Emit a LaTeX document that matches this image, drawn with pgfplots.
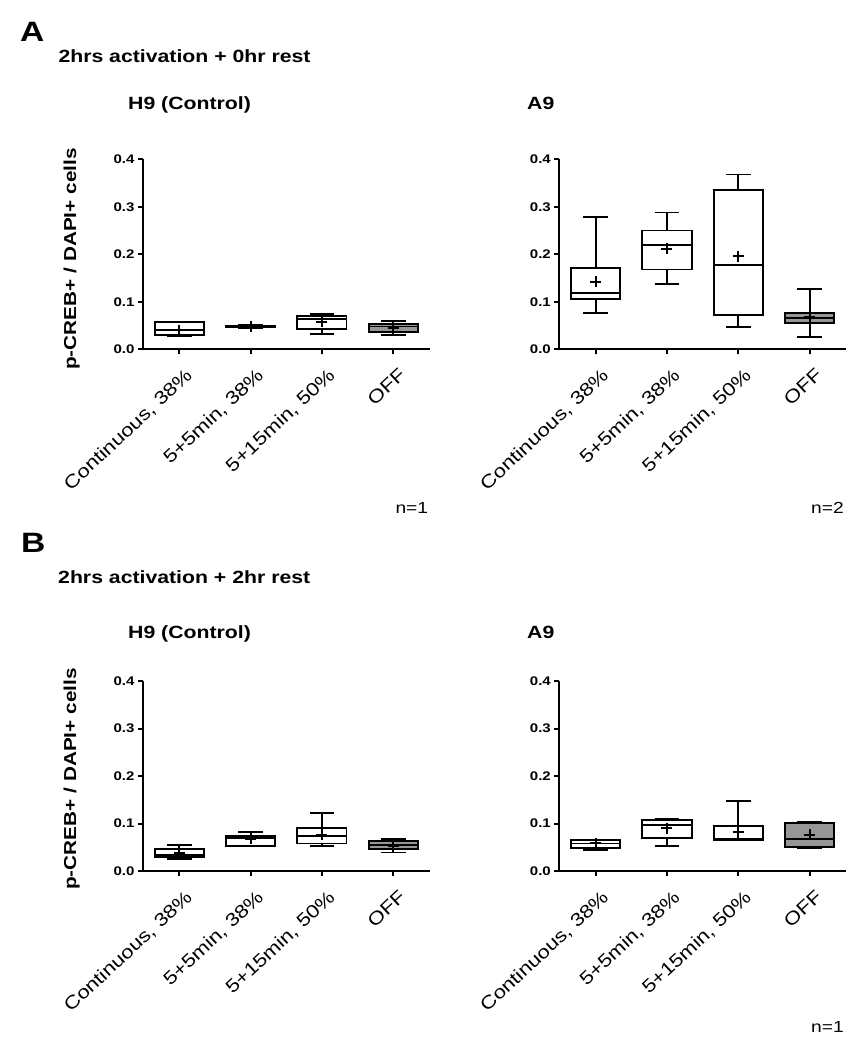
\documentclass[border=0pt]{standalone}
\usepackage{pgfplots}
\pgfplotsset{compat=1.18}
\usepgfplotslibrary{statistics}
\usepackage{fontspec}
\setmainfont{Liberation Sans}[FakeStretch=1.2]
\definecolor{offgray}{RGB}{150,150,150}
\pgfplotsset{
  myax/.style={
    scale only axis, width=286.6pt, height=190pt,
    xmin=-0.51, xmax=3.51, ymin=0, ymax=0.4,
    axis x line*=bottom, axis y line*=left,
    axis line style={line width=2pt},
    every tick/.style={black, line width=2pt},
    major tick length=5pt, tick align=outside,
    xtick={0,1,2,3},
    xticklabels={{Continuous, 38\%},{5+5min, 38\%},{5+15min, 50\%},{OFF}},
    ytick={0,0.1,0.2,0.3,0.4},
    yticklabel style={font=\bfseries\fontsize{12.5}{13}\selectfont,
      /pgf/number format/fixed, /pgf/number format/fixed zerofill,
      /pgf/number format/precision=1, /pgf/number format/assume math mode=true},
    xticklabel style={font=\fontsize{18.3}{19}\selectfont, xshift=5pt, yshift=-8pt, rotate=43, anchor=north east},
    clip=false,
    boxplot/draw direction=y,
  },
  bx/.style={draw=black, line width=1.9pt, fill=white, solid,
    boxplot/draw direction=y,
    boxplot/box extend=0.69, boxplot/whisker extend=0.345},
  mn/.style={only marks, mark=+, mark size=5.5pt, black, mark options={solid, line width=2pt}},
}
\newcommand{\bx}[7]{\addplot[bx, fill=#7, boxplot prepared={draw position=#1,
  lower whisker=#2, lower quartile=#3, median=#4, upper quartile=#5, upper whisker=#6}]
  coordinates {};}
\begin{document}
\begin{tikzpicture}
\useasboundingbox (0,0) rectangle (857pt,1051pt);
% ---------- Panel A, H9
\begin{axis}[myax, at={(143pt,701.7pt)}, anchor=south west]
\bx{0}{0.027}{0.030}{0.040}{0.057}{0.057}{white}
\bx{1}{0.045}{0.047}{0.048}{0.050}{0.052}{white}
\bx{2}{0.033}{0.042}{0.063}{0.071}{0.074}{white}
\bx{3}{0.031}{0.036}{0.048}{0.054}{0.060}{offgray}
\addplot[mn] coordinates {(0,0.040) (1,0.048) (2,0.058) (3,0.045)};
\end{axis}
% ---------- Panel A, A9
\begin{axis}[myax, at={(559.3pt,701.7pt)}, anchor=south west]
\bx{0}{0.077}{0.106}{0.119}{0.171}{0.2785}{white}
\bx{1}{0.1375}{0.168}{0.2196}{0.250}{0.288}{white}
\bx{2}{0.046}{0.072}{0.177}{0.335}{0.368}{white}
\bx{3}{0.026}{0.055}{0.065}{0.076}{0.127}{offgray}
\addplot[mn] coordinates {(0,0.142) (1,0.212) (2,0.196) (3,0.068)};
\end{axis}
% ---------- Panel B, H9
\begin{axis}[myax, at={(143pt,180pt)}, anchor=south west]
\bx{0}{0.026}{0.029}{0.033}{0.047}{0.0555}{white}
\bx{1}{0.053}{0.0535}{0.070}{0.0744}{0.083}{white}
\bx{2}{0.053}{0.058}{0.073}{0.091}{0.123}{white}
\bx{3}{0.039}{0.0457}{0.055}{0.063}{0.067}{offgray}
\addplot[mn] coordinates {(0,0.038) (1,0.068) (2,0.0765) (3,0.052)};
\end{axis}
% ---------- Panel B, A9
\begin{axis}[myax, at={(559.3pt,180pt)}, anchor=south west]
\bx{0}{0.044}{0.048}{0.058}{0.0646}{0.065}{white}
\bx{1}{0.0526}{0.070}{0.097}{0.107}{0.1095}{white}
\bx{2}{0.0646}{0.0647}{0.0667}{0.0947}{0.147}{white}
\bx{3}{0.048}{0.0505}{0.0667}{0.101}{0.104}{offgray}
\addplot[mn] coordinates {(0,0.058) (1,0.090) (2,0.082) (3,0.076)};
\end{axis}
% ---------- texts
\node[anchor=base west, inner sep=0pt, font=\bfseries\fontsize{28}{30}\selectfont] at (20pt,1009pt) {A};
\node[anchor=base west, inner sep=0pt, font=\bfseries\fontsize{17.7}{19}\selectfont] at (58.3pt,988.7pt) {2hrs activation + 0hr rest};
\node[anchor=base west, inner sep=0pt, font=\bfseries\fontsize{17.7}{19}\selectfont] at (128pt,941pt) {H9 (Control)};
\node[anchor=base west, inner sep=0pt, font=\bfseries\fontsize{17.7}{19}\selectfont] at (527pt,941pt) {A9};
\node[anchor=base, rotate=90, inner sep=0pt, font=\bfseries\fontsize{17.3}{19}\selectfont] at (76pt,792pt) {p-CREB+ / DAPI+ cells};
\node[anchor=base east, inner sep=0pt, font=\fontsize{16}{18}\selectfont] at (428.3pt,537.7pt) {n=1};
\node[anchor=base east, inner sep=0pt, font=\fontsize{16}{18}\selectfont] at (844pt,537.7pt) {n=2};
\node[anchor=base west, inner sep=0pt, font=\bfseries\fontsize{28}{30}\selectfont] at (21pt,498.7pt) {B};
\node[anchor=base west, inner sep=0pt, font=\bfseries\fontsize{17.7}{19}\selectfont] at (58pt,467.7pt) {2hrs activation + 2hr rest};
\node[anchor=base west, inner sep=0pt, font=\bfseries\fontsize{17.7}{19}\selectfont] at (128pt,412.7pt) {H9 (Control)};
\node[anchor=base west, inner sep=0pt, font=\bfseries\fontsize{17.7}{19}\selectfont] at (527pt,412.7pt) {A9};
\node[anchor=base, rotate=90, inner sep=0pt, font=\bfseries\fontsize{17.3}{19}\selectfont] at (76pt,272pt) {p-CREB+ / DAPI+ cells};
\node[anchor=base east, inner sep=0pt, font=\fontsize{16}{18}\selectfont] at (844pt,18pt) {n=1};
\end{tikzpicture}
\end{document}
